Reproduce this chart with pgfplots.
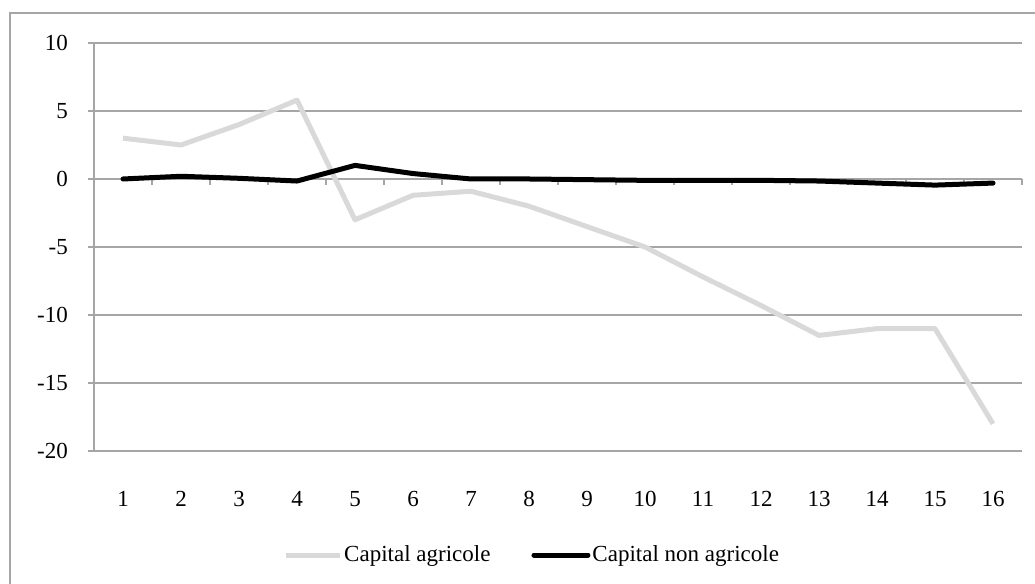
\documentclass[border=0pt]{standalone}
\usepackage{pgfplots}
\pgfplotsset{compat=1.18}
\usepackage{fontspec}
\setmainfont{Liberation Serif}
\definecolor{gridgray}{HTML}{A6A6A6}
\definecolor{agri}{HTML}{D9D9D9}
\pgfplotstableread{
x agri nonagri
1 3.0 0.0
2 2.5 0.2
3 4.0 0.05
4 5.8 -0.15
5 -3.0 1.0
6 -1.2 0.4
7 -0.9 0.0
8 -2.0 0.0
9 -3.5 -0.05
10 -5.0 -0.1
11 -7.2 -0.1
12 -9.3 -0.1
13 -11.5 -0.15
14 -11.0 -0.3
15 -11.0 -0.45
16 -18.0 -0.3
}\datatable
\begin{document}
\fontsize{23bp}{27bp}\selectfont
\begin{tikzpicture}[x=1bp,y=1bp]
\useasboundingbox (0,0) rectangle (1035,584);
\draw[gridgray, line width=2bp] (9.5,0) -- (9.5,570.5) -- (1035,570.5);
\begin{axis}[
  at={(94bp,133bp)}, anchor=south west,
  scale only axis, width=928bp, height=408bp,
  xmin=0.5, xmax=16.5, ymin=-20, ymax=10,
  ytick={-20,-15,...,10},
  xtick={1,...,16},
  axis lines=left,
  x axis line style={draw=none},
  y axis line style={gridgray, line width=1.5bp, -},
  every tick/.style={gridgray, line width=1.5bp},
  ymajorgrids,
  grid style={gridgray, line width=1.5bp},
  tick align=outside,
  major tick length=6bp,
  x tick style={draw=none},
  xticklabel style={anchor=center, yshift=-42bp, inner sep=0pt},
  yticklabel style={anchor=east, inner sep=0pt, xshift=-20bp},
  ticklabel style={font=\fontsize{23bp}{27bp}\selectfont},
  /pgf/number format/assume math mode=true,
  clip=false,
  legend columns=2,
  legend style={draw=none, fill=none, at={(0.2037,-0.255)}, anchor=west,
    inner sep=0pt, font=\fontsize{23bp}{27bp}\selectfont,
    /tikz/every even column/.append style={column sep=39bp}},
  legend image code/.code={\draw[#1] (0bp,0bp) -- (54bp,0bp);},
  legend cell align=left,
]
\draw[gridgray, line width=1.5bp] (axis cs:0.5,0) -- (axis cs:16.5,0);
\pgfplotsinvokeforeach{1.5,2.5,...,16.5}{
  \draw[gridgray, line width=1.5bp] (axis cs:#1,0) -- ([yshift=-6bp]axis cs:#1,0);
}
\addplot[agri, line width=5bp, line join=round] table[x=x,y=agri]{\datatable};
\addlegendentry{Capital agricole}
\addplot[black, line width=5bp, line join=round, line cap=round] table[x=x,y=nonagri]{\datatable};
\addlegendentry{Capital non agricole}
\end{axis}
\end{tikzpicture}
\end{document}
